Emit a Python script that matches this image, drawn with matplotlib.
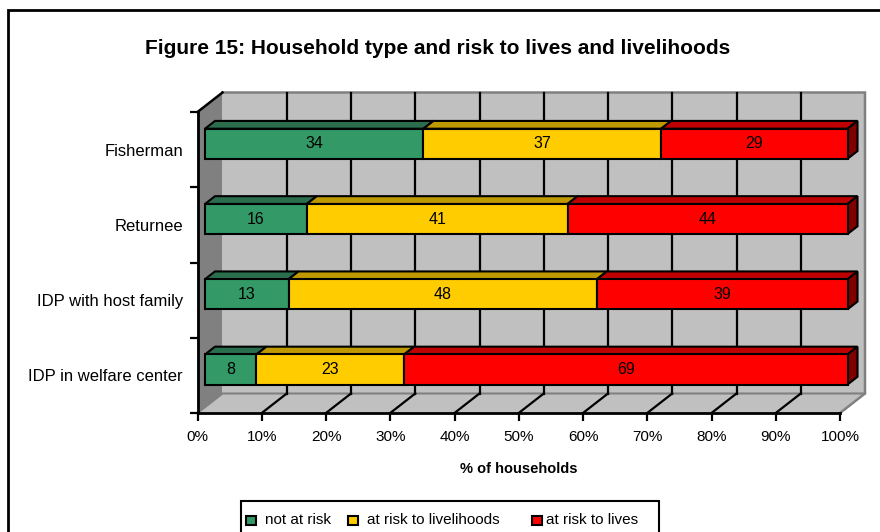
import matplotlib
matplotlib.use("Agg")
import matplotlib.pyplot as plt
from matplotlib.patches import Polygon, Rectangle
import numpy as np

plt.rcParams['font.family'] = ['Liberation Sans', 'DejaVu Sans']

# ---- data -------------------------------------------------------------
categories = ["IDP in welfare center", "IDP with host family", "Returnee", "Fisherman"]
series_names = ["not at risk", "at risk to livelihoods", "at risk to lives"]
not_at_risk = [8, 13, 16, 34]
risk_livelihoods = [23, 48, 41, 37]
risk_lives = [69, 39, 44, 29]
x_ticks = [0, 10, 20, 30, 40, 50, 60, 70, 80, 90, 100]
x_tick_labels = [f"{t}%" for t in x_ticks]

# ---- styling ----------------------------------------------------------
front_cols = ["#339966", "#FFCC00", "#FF0000"]
top_cols = ["#2A6E4E", "#BF9900", "#BF0000"]
side_cols = ["#1F5238", "#8F7300", "#800000"]
wall_col = "#C0C0C0"
side_wall_col = "#808080"
edge_gray = "#808080"

W, H, DPI = 880, 532, 100
fig = plt.figure(figsize=(W / DPI, H / DPI), dpi=DPI)

# front plane of the 3-D plot box (pixels)
px_left, px_right, px_top, px_bottom = 197.5, 840.0, 112.0, 413.0
ax = fig.add_axes([px_left / W, (H - px_bottom) / H,
                   (px_right - px_left) / W, (px_bottom - px_top) / H])
ax.set_xlim(0, 100)
ax.set_ylim(0, len(categories))
ax.patch.set_visible(False)

# depth offsets (data units) for a full step back into the box
px_per_x = (px_right - px_left) / 100.0
px_per_y = (px_bottom - px_top) / len(categories)
DX = 25.0 / px_per_x
DY = 19.5 / px_per_y


def P(x, y, d):
    """Project a point at depth fraction d (0 = front, 1 = back)."""
    return (x + d * DX, y + d * DY)


ny = len(categories)
# side wall
ax.add_patch(Polygon([P(0, 0, 0), P(0, 0, 1), P(0, ny, 1), P(0, ny, 0)],
                     closed=True, facecolor=side_wall_col, edgecolor="none",
                     zorder=0.5, clip_on=False))
# back wall
ax.add_patch(Polygon([P(0, 0, 1), P(100, 0, 1), P(100, ny, 1), P(0, ny, 1)],
                     closed=True, facecolor=wall_col, edgecolor="none",
                     zorder=0.5, clip_on=False))
# floor
ax.add_patch(Polygon([P(0, 0, 0), P(100, 0, 0), P(100, 0, 1), P(0, 0, 1)],
                     closed=True, facecolor=wall_col, edgecolor="none",
                     zorder=0.6, clip_on=False))
# gray outline of the back wall and floor
bx = [P(0, ny, 1), P(100, ny, 1), P(100, 0, 1), P(100, 0, 0)]
ax.plot([p[0] for p in bx], [p[1] for p in bx], color=edge_gray, lw=1.8,
        zorder=1, clip_on=False, solid_joinstyle="miter")
fb = [P(0, 0, 0), P(0, 0, 1), P(100, 0, 1)]
ax.plot([p[0] for p in fb], [p[1] for p in fb], color=edge_gray, lw=1.5,
        zorder=1, clip_on=False)
# top edge of the side wall
tw = [P(0, ny, 0), P(0, ny, 1)]
ax.plot([p[0] for p in tw], [p[1] for p in tw], color="black", lw=1.8,
        zorder=1.2, clip_on=False)

# gridlines on back wall and floor
for t in x_ticks[1:-1]:
    a, b = P(t, 0, 1), P(t, ny, 1)
    ax.plot([a[0], b[0]], [a[1], b[1]], color="black", lw=1.6, zorder=1.1,
            clip_on=False)
    a, b = P(t, 0, 0), P(t, 0, 1)
    ax.plot([a[0], b[0]], [a[1], b[1]], color="black", lw=1.6, zorder=1.1,
            clip_on=False)

# ---- stacked 100% bars ------------------------------------------------
values = np.array([not_at_risk, risk_livelihoods, risk_lives], dtype=float)
shares = values / values.sum(axis=0) * 100.0
d0, d1 = 0.3, 0.7
half_h = 0.2
for i in range(ny):
    yc = i + 0.5
    y0, y1 = yc - half_h, yc + half_h
    left = 0.0
    for s in range(len(series_names)):
        w = shares[s, i]
        right = left + w
        top = [P(left, y1, d0), P(right, y1, d0), P(right, y1, d1), P(left, y1, d1)]
        ax.add_patch(Polygon(top, closed=True, facecolor=top_cols[s],
                             edgecolor="black", lw=1.5, zorder=3,
                             clip_on=False, joinstyle="miter"))
        front = [P(left, y0, d0), P(right, y0, d0), P(right, y1, d0), P(left, y1, d0)]
        ax.add_patch(Polygon(front, closed=True, facecolor=front_cols[s],
                             edgecolor="black", lw=1.5, zorder=4,
                             clip_on=False, joinstyle="miter"))
        cx, cy = P(left + w / 2, yc, d0)
        ax.text(cx, cy, f"{int(values[s, i])}", ha="center", va="center",
                fontsize=11.5, color="black", zorder=6)
        left = right
    # visible end face of the last segment
    side = [P(left, y0, d0), P(left, y0, d1), P(left, y1, d1), P(left, y1, d0)]
    ax.add_patch(Polygon(side, closed=True, facecolor=side_cols[-1],
                         edgecolor="black", lw=1.5, zorder=3.5,
                         clip_on=False, joinstyle="miter"))

# ---- axes -------------------------------------------------------------
for sp in ["top", "right"]:
    ax.spines[sp].set_visible(False)
for sp in ["left", "bottom"]:
    ax.spines[sp].set_linewidth(2)
    ax.spines[sp].set_zorder(5)
ax.set_xticks(x_ticks)
ax.set_xticklabels(x_tick_labels, fontsize=11)
ax.tick_params(axis="x", direction="out", length=6, width=1.6, pad=6.5)
ax.set_yticks(np.arange(ny + 1))
ax.set_yticklabels([])
ax.tick_params(axis="y", which="major", direction="out", length=6, width=1.6)
ax.set_yticks(np.arange(ny) + 0.5, minor=True)
ax.set_yticklabels(categories, minor=True, fontsize=12)
ax.tick_params(axis="y", which="minor", length=0, pad=10.5)

# ---- titles -----------------------------------------------------------
fig.text(437.5 / W, 1 - 48 / H, "Figure 15: Household type and risk to lives and livelihoods",
         ha="center", va="center", fontsize=15, fontweight="bold")
fig.text(518.5 / W, 1 - 469 / H, "% of households", ha="center", va="center",
         fontsize=10.5, fontweight="bold")

# ---- legend box -------------------------------------------------------
def fpx(x, y):
    return (x / W, 1 - y / H)

lg_x0, lg_x1, lg_y0 = 241, 659, 501
fig.patches.append(Rectangle(fpx(lg_x0, lg_y0 + 60), (lg_x1 - lg_x0) / W, 60 / H,
                             transform=fig.transFigure, facecolor="white",
                             edgecolor="black", lw=1.5))
marker_x = [246, 348, 532]
text_x = [265, 366.5, 546]
for s, name in enumerate(series_names):
    fig.patches.append(Rectangle(fpx(marker_x[s], 525), 9.5 / W, 9.5 / H,
                                 transform=fig.transFigure,
                                 facecolor=front_cols[s], edgecolor="black", lw=1.5))
    fig.text(*fpx(text_x[s], 520), name, ha="left", va="center", fontsize=11)

# ---- outer frame ------------------------------------------------------
fig.patches.append(Rectangle(fpx(8, 600), 1.0, (600 - 10) / H,
                             transform=fig.transFigure, facecolor="none",
                             edgecolor="black", lw=2))

fig.savefig("out.png", dpi=DPI)
